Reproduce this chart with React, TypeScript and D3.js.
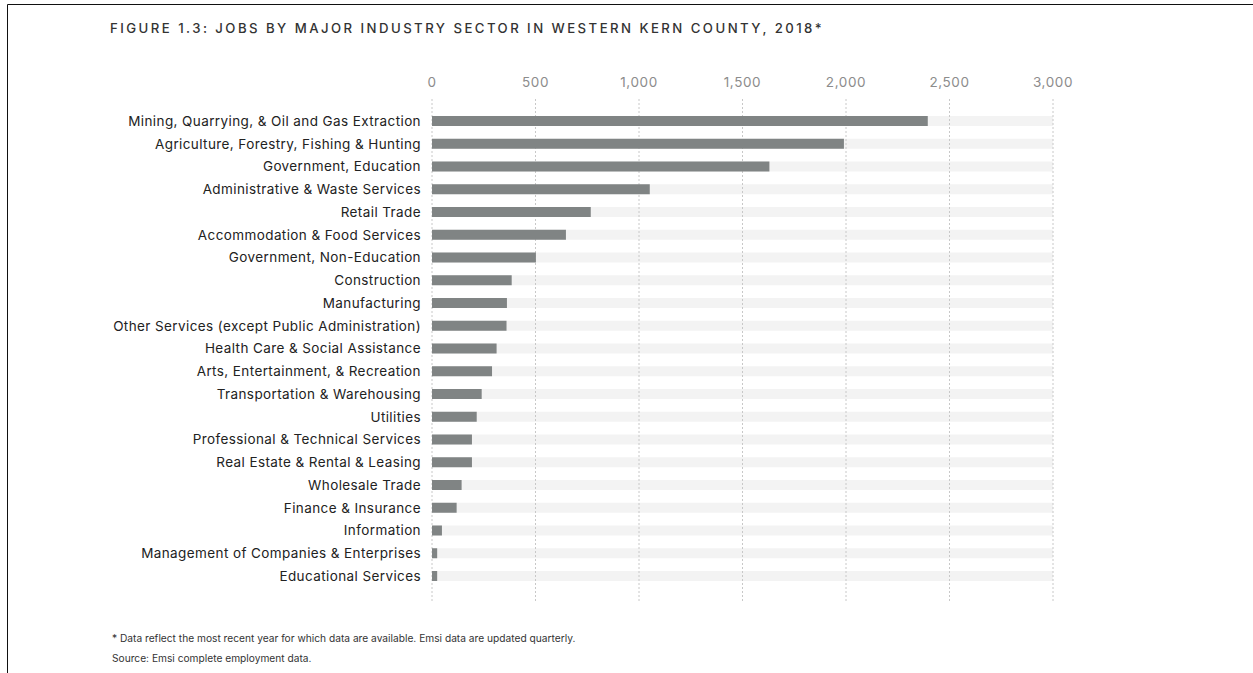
import React from "react";
import * as d3 from "d3";

const categories: string[] = [
  "Mining, Quarrying, & Oil and Gas Extraction",
  "Agriculture, Forestry, Fishing & Hunting",
  "Government, Education",
  "Administrative & Waste Services",
  "Retail Trade",
  "Accommodation & Food Services",
  "Government, Non-Education",
  "Construction",
  "Manufacturing",
  "Other Services (except Public Administration)",
  "Health Care & Social Assistance",
  "Arts, Entertainment, & Recreation",
  "Transportation & Warehousing",
  "Utilities",
  "Professional & Technical Services",
  "Real Estate & Rental & Leasing",
  "Wholesale Trade",
  "Finance & Insurance",
  "Information",
  "Management of Companies & Enterprises",
  "Educational Services",
];

const jobs: number[] = [
  2395, 1990, 1630, 1052, 767, 647, 502, 385, 362, 360, 312, 290, 240, 216,
  193, 193, 143, 119, 48, 25, 25,
];

const tickValues: number[] = [0, 500, 1000, 1500, 2000, 2500, 3000];

const title =
  "FIGURE 1.3: JOBS BY MAJOR INDUSTRY SECTOR IN WESTERN KERN COUNTY, 2018*";
const footnote =
  "* Data reflect the most recent year for which data are available. Emsi data are updated quarterly.";
const source = "Source: Emsi complete employment data.";

const W = 1253;
const H = 673;
const FONT = "Inter, 'Noto Sans', sans-serif";

export default function App() {
  const x = d3.scaleLinear().domain([0, 3000]).range([432, 1053]);
  const y = d3.scalePoint<string>().domain(categories).range([121, 576]);
  const barH = 10;
  const fmt = d3.format(",");

  return (
    <svg
      width={W}
      height={H}
      style={{ position: "absolute", left: 0, top: 0, background: "#fff" }}
      fontFamily={FONT}
    >
      <rect x={0} y={0} width={W} height={H} fill="#fff" />
      <line x1={7.5} y1={4.5} x2={W} y2={4.5} stroke="#111" strokeWidth={1} />
      <line x1={7.5} y1={4.5} x2={7.5} y2={H} stroke="#111" strokeWidth={1} />

      <text
        x={110}
        y={33}
        fontSize={13.2}
        fill="#333"
        letterSpacing={2.45}
        fontWeight={500}
      >
        {title}
      </text>

      {/* background bands */}
      {categories.map((c) => (
        <rect
          key={"bg" + c}
          x={x(0)}
          y={(y(c) as number) - barH / 2}
          width={x(3000) - x(0)}
          height={barH}
          fill="#f3f3f3"
        />
      ))}

      {/* gridlines */}
      {tickValues.map((t) => (
        <g key={"g" + t}>
          <line
            x1={x(t)}
            x2={x(t)}
            y1={99}
            y2={601}
            stroke="#c8c8c8"
            strokeWidth={1}
            strokeDasharray="2,2"
          />
          <text
            x={x(t)}
            y={87}
            textAnchor="middle"
            fontSize={13.5}
            letterSpacing={0.6}
            fill="#8c8c8c"
          >
            {fmt(t)}
          </text>
        </g>
      ))}

      {/* bars and labels */}
      {categories.map((c, i) => (
        <g key={c}>
          <rect
            x={x(0)}
            y={(y(c) as number) - barH / 2}
            width={x(jobs[i]) - x(0)}
            height={barH}
            fill="#808484"
          />
          <text
            x={421}
            y={(y(c) as number) + 4.8}
            textAnchor="end"
            fontSize={13.5}
            letterSpacing={0.4}
            fill="#222"
          >
            {c}
          </text>
        </g>
      ))}

      <text x={112} y={642} fontSize={10.2} fill="#333">
        {footnote}
      </text>
      <text x={112} y={662} fontSize={10.2} fill="#333">
        {source}
      </text>
    </svg>
  );
}
